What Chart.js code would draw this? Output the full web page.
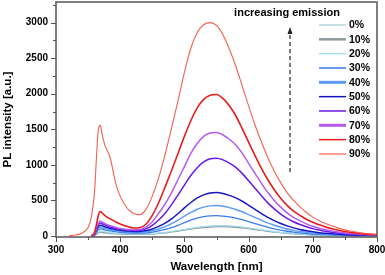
<!DOCTYPE html>
<html>
<head>
<meta charset="utf-8">
<script src="https://cdn.jsdelivr.net/npm/chart.js"></script>
<style>
  html, body { margin: 0; padding: 0; background: #fff; }
  #wrap { width: 385px; height: 275px; }
</style>
</head>
<body>
<div id="wrap"><canvas id="plChart" width="385" height="275"></canvas></div>
<script>
// wavelength grid [nm]
const wavelengths = [320, 330, 340, 350, 355, 360, 363, 366, 369, 372, 376, 380, 385, 390, 395, 400, 410, 420,
  430, 440, 450, 460, 470, 480, 490, 500, 510, 520, 530, 540, 550, 560, 570, 580, 590, 600, 610, 620, 630, 640,
  650, 660, 670, 680, 690, 700, 710, 720, 730, 740, 750, 760, 770, 780, 790, 800];

const seriesLabels = ['0%', '10%', '20%', '30%', '40%', '50%', '60%', '70%', '80%', '90%'];

// PL intensity [a.u.]
const pl0 = [null, null, null, null, 0, 5, 20, 38, 45, 43, 39, 36, 33, 30, 28, 26, 23, 21,
  21, 24, 29, 37, 47, 59, 73, 88, 103, 116, 127, 135,
  139, 140, 137, 131, 121, 109, 96, 83, 70, 58, 48, 39, 32, 26, 21, 16, 13, 10, 8, 7, 5, 4, 3, 3, 2, 2];
const pl10 = [null, null, null, null, 0, 6, 25, 45, 55, 52, 47, 43, 39, 35, 32, 29, 25, 23,
  22, 24, 28, 35, 44, 55, 68, 82, 96, 108, 118, 125,
  129, 130, 127, 121, 112, 101, 89, 77, 65, 54, 45, 37, 30, 24, 19, 15, 12, 10, 8, 6, 5, 4, 3, 3, 2, 2];
const pl20 = [null, null, null, null, 0, 8, 35, 60, 70, 66, 60, 54, 49, 44, 40, 37, 32, 29,
  28, 29, 33, 40, 50, 62, 76, 92, 107, 121, 132, 140,
  144, 145, 142, 136, 126, 114, 100, 86, 73, 61, 50, 41, 33, 27, 22, 17, 14, 11, 9, 7, 6, 5, 4, 3, 2, 2];
const pl30 = [null, null, null, null, 0, 12, 50, 88, 100, 95, 85, 77, 70, 63, 57, 52, 45, 41,
  40, 44, 54, 70, 91, 118, 150, 186, 221, 251, 271, 283,
  286, 280, 267, 250, 228, 201, 174, 147, 122, 100, 81, 66, 53, 42, 34, 27, 22, 17, 14, 11, 9, 7, 5, 4, 3, 3];
const pl40 = [null, null, null, null, 0, 15, 65, 110, 125, 118, 106, 96, 87, 78, 71, 65, 57, 51,
  51, 58, 73, 98, 130, 172, 222, 278, 330, 375, 405, 422,
  427, 418, 399, 372, 340, 300, 260, 220, 183, 150, 122, 98, 79, 63, 51, 40, 32, 26, 20, 16, 13, 10, 8, 6, 5, 4];
const pl50 = [null, null, null, null, 0, 20, 80, 135, 152, 145, 130, 118, 106, 96, 87, 80, 70, 63,
  64, 75, 98, 135, 180, 240, 315, 395, 470, 535, 578, 603,
  610, 597, 570, 535, 488, 430, 372, 315, 262, 215, 175, 141, 113, 91, 73, 58, 46, 37, 29, 23, 18, 14, 11, 9, 7, 5];
const pl60 = [null, null, null, null, 0, 25, 95, 160, 182, 172, 155, 140, 126, 113, 102, 93, 82, 76,
  78, 100, 150, 225, 320, 440, 575, 715, 850, 960, 1040, 1085,
  1094, 1070, 1025, 965, 880, 775, 670, 565, 465, 380, 308, 248, 199, 160, 129, 103, 82, 65, 52, 41, 32, 25, 20, 15, 11, 9];
const pl70 = [null, null, null, null, 0, 30, 110, 180, 205, 195, 175, 158, 142, 128, 115, 105, 92, 85,
  90, 125, 200, 320, 450, 610, 790, 975, 1160, 1300, 1400, 1448,
  1455, 1420, 1360, 1280, 1165, 1020, 880, 740, 610, 500, 405, 325, 262, 211, 170, 135, 108, 86, 68, 54, 42, 33, 26, 20, 15, 12];
const pl80 = [null, null, null, null, 0, 50, 160, 290, 342, 320, 290, 262, 238, 212, 188, 168, 136, 112,
  115, 165, 290, 470, 690, 920, 1160, 1400, 1620, 1800, 1920, 1980,
  1990, 1935, 1830, 1690, 1510, 1320, 1130, 950, 790, 650, 530, 430, 350, 290, 235, 192, 157, 127, 102, 81, 63, 49, 38, 29, 22, 16];
const pl90 = [2, 12, 38, 120, 260, 620, 1100, 1500, 1555, 1420, 1280, 1200, 1080, 860, 680, 560, 400, 320,
  300, 370, 560, 820, 1150, 1520, 1900, 2300, 2640, 2860, 2970, 3000,
  2960, 2830, 2630, 2390, 2110, 1830, 1560, 1320, 1100, 910, 750, 610, 500, 410, 330, 265, 215, 175, 140, 110, 85, 65, 50, 38, 28, 22];

const seriesValues = [pl0, pl10, pl20, pl30, pl40, pl50, pl60, pl70, pl80, pl90];

// axis ticks
const xMajor = [300, 400, 500, 600, 700, 800];
const xMinor = [350, 450, 550, 650, 750];
const yMajor = [0, 500, 1000, 1500, 2000, 2500, 3000];
const yMinor = [250, 750, 1250, 1750, 2250, 2750, 3250];

const colors = ['#b4d4dc', '#8c9a9c', '#a4dff2', '#3a7de6', '#5a9af0', '#1616c0', '#6a18e6', '#b45cf2', '#e81c1c', '#f4604c'];
const lineWidths = [1.2, 1.2, 1.2, 1.3, 1.4, 1.5, 1.5, 1.5, 1.6, 1.1];
const legendWidths = [1.5, 2.5, 1.5, 1.5, 3, 1.5, 1.5, 3, 1.5, 1.2];

const datasets = seriesValues.map((vals, i) => ({
  label: seriesLabels[i],
  data: wavelengths.map((w, j) => ({ x: w, y: vals[j] })),
  borderColor: colors[i],
  borderWidth: lineWidths[i],
  pointRadius: 0,
  fill: false,
  cubicInterpolationMode: 'monotone',
  spanGaps: false,
  order: seriesLabels.length - 1 - i
}));

const boldFont = (size) => ({ family: 'Liberation Sans, Arial, sans-serif', size: size, weight: 'bold' });

// frame, outward ticks, legend and the "increasing emission" arrow
const decorations = {
  id: 'decorations',
  afterDraw(chart) {
    const { ctx, chartArea: a, scales: { x, y } } = chart;
    ctx.save();
    ctx.strokeStyle = '#555';
    ctx.lineWidth = 1;
    xMajor.concat(xMinor).forEach(v => {
      const px = Math.round(x.getPixelForValue(v)) + 0.5;
      const len = xMajor.includes(v) ? 5 : 3;
      ctx.beginPath(); ctx.moveTo(px, a.bottom); ctx.lineTo(px, a.bottom + len); ctx.stroke();
    });
    yMajor.concat(yMinor).forEach(v => {
      const py = Math.round(y.getPixelForValue(v)) + 0.5;
      const len = yMajor.includes(v) ? 5 : 3;
      ctx.beginPath(); ctx.moveTo(a.left, py); ctx.lineTo(a.left - len, py); ctx.stroke();
    });
    ctx.lineWidth = 1.5;
    ctx.strokeRect(a.left, a.top, a.right - a.left, a.bottom - a.top);

    // legend
    ctx.font = 'bold 10.5px "Liberation Sans", Arial, sans-serif';
    ctx.textBaseline = 'middle';
    ctx.textAlign = 'left';
    seriesLabels.forEach((lab, i) => {
      const ly = 25 + i * 14.33;
      ctx.strokeStyle = colors[i];
      ctx.lineWidth = legendWidths[i];
      ctx.beginPath(); ctx.moveTo(319, ly); ctx.lineTo(346, ly); ctx.stroke();
      ctx.fillStyle = '#000';
      ctx.fillText(lab, 349, ly + 0.5);
    });

    // annotation
    ctx.font = 'bold 11px "Liberation Sans", Arial, sans-serif';
    ctx.textAlign = 'center';
    ctx.fillText('increasing emission', 287, 13);
    ctx.strokeStyle = '#333';
    ctx.lineWidth = 1.3;
    ctx.setLineDash([4, 3]);
    ctx.beginPath(); ctx.moveTo(290, 172); ctx.lineTo(290, 32); ctx.stroke();
    ctx.setLineDash([]);
    ctx.fillStyle = '#222';
    ctx.beginPath(); ctx.moveTo(290, 27); ctx.lineTo(287.5, 34); ctx.lineTo(292.5, 34); ctx.closePath(); ctx.fill();
    ctx.restore();
  }
};

new Chart(document.getElementById('plChart').getContext('2d'), {
  type: 'line',
  data: { datasets: datasets },
  options: {
    responsive: false,
    animation: false,
    layout: { padding: { top: 2, right: 8, left: 0, bottom: 0 } },
    plugins: { legend: { display: false }, title: { display: false }, tooltip: { enabled: false } },
    scales: {
      x: {
        type: 'linear',
        min: 300,
        max: 800,
        afterBuildTicks: (s) => { s.ticks = xMajor.map(v => ({ value: v })); },
        afterFit: (s) => { s.height = 38; s.paddingLeft = 0; s.paddingRight = 0; },
        grid: { display: false, drawTicks: false },
        border: { display: false },
        ticks: { color: '#000', font: boldFont(10), padding: 7, maxRotation: 0, callback: (v) => String(v) },
        title: { display: true, text: 'Wavelength [nm]', color: '#000', font: boldFont(11.5), padding: { top: 0, bottom: 1 } }
      },
      y: {
        type: 'linear',
        min: -15,
        max: 3290,
        afterBuildTicks: (s) => { s.ticks = yMajor.map(v => ({ value: v })); },
        afterFit: (s) => { s.width = 56; s.paddingTop = 0; s.paddingBottom = 0; },
        grid: { display: false, drawTicks: false },
        border: { display: false },
        ticks: { color: '#000', font: boldFont(10), padding: 8, callback: (v) => String(v) },
        title: { display: true, text: 'PL intensity [a.u.]', color: '#000', font: boldFont(11.5), padding: { top: 1, bottom: 0 } }
      }
    }
  },
  plugins: [decorations]
});
</script>
</body>
</html>
